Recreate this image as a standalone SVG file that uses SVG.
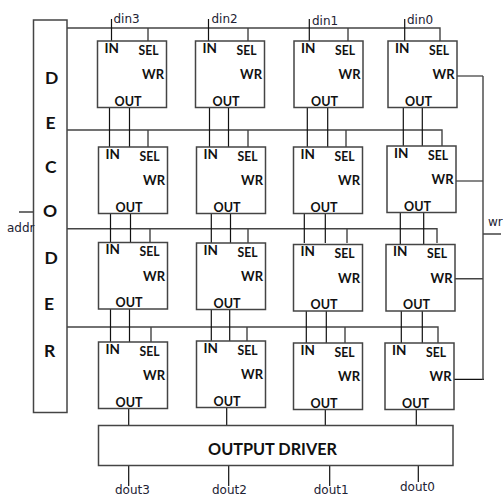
<svg xmlns="http://www.w3.org/2000/svg" width="503" height="497" viewBox="0 0 503 497">
<style>
.b{fill:#fff;stroke:#444;stroke-width:1.5}
.w{fill:none;stroke:#111;stroke-width:1.2}
.g{fill:none;stroke:#444;stroke-width:1.4}
.t{font-family:Lato,"Liberation Sans",sans-serif;font-weight:700;font-size:13.5px;fill:#111}
.d{font-family:Lato,"Liberation Sans",sans-serif;font-weight:700;font-size:17.5px;fill:#111}
.o{font-family:Lato,"Liberation Sans",sans-serif;font-weight:700;font-size:17px;fill:#111}
.l{font-family:"DejaVu Sans",sans-serif;font-size:12px;fill:#223}
</style>
<defs>
<g id="cell">
<rect class="b" width="69" height="66.5"/>
<text class="t" x="7" y="11.500">IN</text>
<text class="t" x="41" y="13.500" textLength="20" lengthAdjust="spacingAndGlyphs">SEL</text>
<text class="t" x="44.500" y="38" textLength="22" lengthAdjust="spacingAndGlyphs">WR</text>
<text class="t" x="17" y="64.500" textLength="27" lengthAdjust="spacingAndGlyphs">OUT</text>
</g>
</defs>
<g id="connectors">
<path class="g" d="M67 28H440V41M67 130H442V147M67 228.700H437V243M67 327H438V343"/>
<path class="g" d="M148 28V41M248 28V41M348 28V41M148 130V147M248 130V147M346 130V147M150 229V243M248 229V243M347 229V243M151 327V342M247 327V341M345 327V343"/>
<path class="w" d="M111.500 19V41M208.500 19V41M309.300 19V41M404.700 19V41"/>
<path class="w" d="M109.500 107V147M129.500 107V147M209.500 107V147M228.500 107V147M307.300 107V147M327.700 107V147M403.300 107V146M422.300 107V146"/>
<path class="w" d="M110.500 213V243M130.500 213V243M211.300 213V243M230.500 213V243M304.300 213V243M325.300 213V243M400.300 212V245M423.700 212V245"/>
<path class="w" d="M110.500 308V342M129.500 308V342M211.300 309V341M229.700 309V341M306.300 311V343M326.300 311V343M401.300 311V343M422.300 311V343"/>
<path class="w" d="M128.700 408V425M226.700 407V425M325.300 409V425M416.300 409V425"/>
<path class="w" d="M128.700 465V486M228.700 465V486M329.700 465V486M418.300 465V482"/>
<path class="w" d="M457 76H483M456 181H483M454 379.300H484"/>
<path class="g" d="M483 76V380M455 278.700H483M483 234H501"/>
<path class="w" d="M19 212H35"/>
</g>
<g id="decoder">
<rect class="b" x="33.500" y="20" width="33.500" height="392.500"/>
<text class="d" x="45" y="84">D</text>
<text class="d" x="45.500" y="129">E</text>
<text class="d" x="45" y="173">C</text>
<text class="d" x="43" y="216.700">O</text>
<text class="d" x="44.500" y="264.300">D</text>
<text class="d" x="44" y="310">E</text>
<text class="d" x="44" y="356.700">R</text>
</g>
<g id="cell-0-3"><use href="#cell" x="97.500" y="41"/></g>
<g id="cell-0-2"><use href="#cell" x="195.500" y="41"/></g>
<g id="cell-0-1"><use href="#cell" x="294" y="41"/></g>
<g id="cell-0-0"><use href="#cell" x="388" y="41"/></g>
<g id="cell-1-3"><use href="#cell" x="98.500" y="147"/></g>
<g id="cell-1-2"><use href="#cell" x="196.500" y="147"/></g>
<g id="cell-1-1"><use href="#cell" x="293.500" y="147"/></g>
<g id="cell-1-0"><use href="#cell" x="387" y="146"/></g>
<g id="cell-2-3"><use href="#cell" x="98.500" y="242.500"/></g>
<g id="cell-2-2"><use href="#cell" x="196.500" y="243"/></g>
<g id="cell-2-1"><use href="#cell" x="293.500" y="244.500"/></g>
<g id="cell-2-0"><use href="#cell" x="386" y="244.500"/></g>
<g id="cell-3-3"><use href="#cell" x="98.500" y="342"/></g>
<g id="cell-3-2"><use href="#cell" x="196.500" y="341"/></g>
<g id="cell-3-1"><use href="#cell" x="293.500" y="343"/></g>
<g id="cell-3-0"><use href="#cell" x="385" y="343"/></g>
<g id="output-driver">
<rect class="b" x="98.500" y="425.500" width="354.500" height="40"/>
<text class="o" x="208" y="455" textLength="129" lengthAdjust="spacingAndGlyphs">OUTPUT DRIVER</text>
</g>
<g id="labels">
<text class="l" x="113.500" y="23">din3</text>
<text class="l" x="211.500" y="23">din2</text>
<text class="l" x="312" y="25">din1</text>
<text class="l" x="407" y="24">din0</text>
<text class="l" x="115" y="494">dout3</text>
<text class="l" x="212" y="494">dout2</text>
<text class="l" x="313.700" y="494">dout1</text>
<text class="l" x="400" y="491">dout0</text>
<text class="l" x="7" y="232">addr</text>
<text class="l" x="488" y="226">wr</text>
</g>
</svg>
